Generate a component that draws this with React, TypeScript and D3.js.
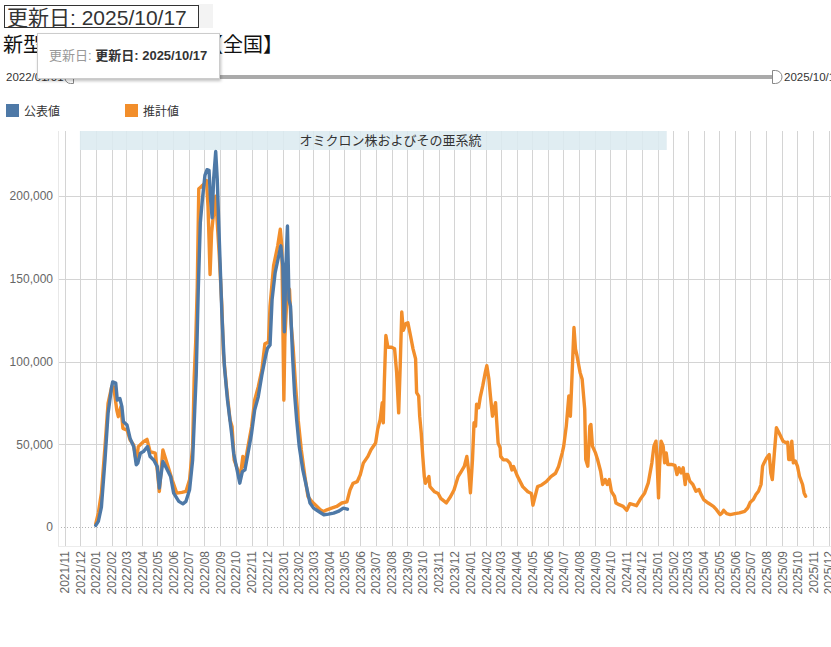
import { useEffect, useRef } from "react";
import * as d3 from "d3";

// 公表値 (published daily counts, ends at the 5類 switch)
const publishedSeries: [string, number][] = [
  ["2022-01-01", 1000], ["2022-01-06", 3400], ["2022-01-12", 12000], ["2022-01-19", 40500],
  ["2022-01-25", 68700], ["2022-02-01", 84700], ["2022-02-03", 87700], ["2022-02-09", 87000],
  ["2022-02-12", 76700], ["2022-02-17", 77700], ["2022-02-21", 72700], ["2022-02-24", 63600],
  ["2022-03-03", 61600], ["2022-03-09", 53600], ["2022-03-16", 48600], ["2022-03-21", 37600],
  ["2022-03-24", 38600], ["2022-03-29", 44600], ["2022-04-04", 45600], ["2022-04-12", 48600],
  ["2022-04-17", 42600], ["2022-04-24", 40500], ["2022-05-01", 36500], ["2022-05-05", 23500],
  ["2022-05-07", 28500], ["2022-05-12", 39600], ["2022-05-19", 35500], ["2022-05-27", 30500],
  ["2022-06-02", 20500], ["2022-06-12", 15500], ["2022-06-20", 14000], ["2022-06-26", 15500],
  ["2022-07-03", 22500], ["2022-07-09", 40500], ["2022-07-13", 70000], ["2022-07-16", 92000],
  ["2022-07-20", 143600], ["2022-07-24", 184000], ["2022-07-28", 198000], ["2022-08-02", 212600],
  ["2022-08-06", 216000], ["2022-08-10", 215600], ["2022-08-13", 198000], ["2022-08-16", 187000],
  ["2022-08-19", 210500], ["2022-08-23", 227000], ["2022-08-26", 210500], ["2022-08-30", 174000],
  ["2022-09-04", 129400], ["2022-09-09", 97000], ["2022-09-15", 76700], ["2022-09-23", 56600],
  ["2022-09-27", 44600], ["2022-10-03", 35500], ["2022-10-09", 26500], ["2022-10-14", 33500],
  ["2022-10-19", 34500], ["2022-10-25", 44600], ["2022-11-01", 56600], ["2022-11-07", 70700],
  ["2022-11-14", 78700], ["2022-11-21", 91800], ["2022-11-28", 102800], ["2022-12-02", 108000],
  ["2022-12-07", 110000], ["2022-12-11", 137500], ["2022-12-17", 153800], ["2022-12-24", 164000],
  ["2022-12-28", 170000], ["2023-01-01", 157800], ["2023-01-04", 118000], ["2023-01-07", 158000],
  ["2023-01-10", 182000], ["2023-01-13", 137500], ["2023-01-16", 133500], ["2023-01-20", 103000],
  ["2023-01-24", 80000], ["2023-01-28", 64600], ["2023-02-02", 48600], ["2023-02-09", 34500],
  ["2023-02-16", 24500], ["2023-02-23", 14500], ["2023-03-02", 11400], ["2023-03-12", 9400],
  ["2023-03-22", 7400], ["2023-03-31", 7800], ["2023-04-10", 8400], ["2023-04-19", 9400],
  ["2023-04-29", 11400], ["2023-05-05", 11000], ["2023-05-07", 10800],
];

// 推計値 (estimated counts)
const estimatedSeries: [string, number][] = [
  ["2022-01-01", 2000], ["2022-01-06", 8400], ["2022-01-12", 20500], ["2022-01-19", 48600],
  ["2022-01-25", 74700], ["2022-02-01", 84700], ["2022-02-05", 84700], ["2022-02-11", 70700],
  ["2022-02-14", 66700], ["2022-02-19", 72700], ["2022-02-23", 59600], ["2022-03-03", 58600],
  ["2022-03-09", 52600], ["2022-03-16", 49600], ["2022-03-21", 39600], ["2022-03-25", 48600],
  ["2022-04-04", 51600], ["2022-04-11", 53000], ["2022-04-17", 45600], ["2022-04-27", 44600],
  ["2022-05-01", 34500], ["2022-05-05", 21500], ["2022-05-12", 46600], ["2022-05-20", 38600],
  ["2022-05-30", 28500], ["2022-06-08", 20500], ["2022-06-18", 20900], ["2022-06-26", 21500],
  ["2022-07-03", 28500], ["2022-07-09", 48600], ["2022-07-12", 90000], ["2022-07-15", 112000],
  ["2022-07-18", 145000], ["2022-07-21", 204500], ["2022-07-25", 205500], ["2022-07-28", 206500],
  ["2022-08-02", 207500], ["2022-08-05", 209500], ["2022-08-08", 194000], ["2022-08-10", 174000],
  ["2022-08-12", 152700], ["2022-08-15", 178000], ["2022-08-19", 190000], ["2022-08-23", 200000],
  ["2022-08-26", 184000], ["2022-08-30", 164000], ["2022-09-04", 133500], ["2022-09-07", 104800],
  ["2022-09-13", 84700], ["2022-09-20", 64700], ["2022-09-24", 60600], ["2022-09-28", 40500],
  ["2022-10-05", 34500], ["2022-10-10", 30500], ["2022-10-15", 42600], ["2022-10-18", 36500],
  ["2022-10-25", 48600], ["2022-11-01", 60600], ["2022-11-07", 76700], ["2022-11-14", 84700],
  ["2022-11-21", 94800], ["2022-11-27", 110800], ["2022-12-04", 111800], ["2022-12-07", 133500],
  ["2022-12-14", 158000], ["2022-12-22", 170000], ["2022-12-27", 180000], ["2022-12-30", 170000],
  ["2023-01-01", 123000], ["2023-01-03", 76700], ["2023-01-05", 115000], ["2023-01-10", 145000],
  ["2023-01-14", 143600], ["2023-01-17", 123000], ["2023-01-21", 108800], ["2023-01-26", 84700],
  ["2023-01-31", 64600], ["2023-02-06", 46600], ["2023-02-13", 30500], ["2023-02-19", 18500],
  ["2023-02-26", 15500], ["2023-03-05", 13500], ["2023-03-15", 10400], ["2023-03-21", 9400],
  ["2023-03-28", 10400], ["2023-04-06", 11400], ["2023-04-16", 12400], ["2023-04-26", 14500],
  ["2023-05-06", 15200], ["2023-05-12", 22400], ["2023-05-18", 26400], ["2023-05-26", 27400],
  ["2023-06-01", 31500], ["2023-06-07", 38600], ["2023-06-16", 42700], ["2023-06-22", 46700],
  ["2023-07-01", 50800], ["2023-07-05", 59000], ["2023-07-10", 65000], ["2023-07-14", 75200],
  ["2023-07-16", 63000], ["2023-07-18", 87400], ["2023-07-21", 115800], ["2023-07-25", 108700],
  ["2023-08-01", 108700], ["2023-08-07", 107700], ["2023-08-11", 93500], ["2023-08-15", 69000],
  ["2023-08-18", 97500], ["2023-08-21", 130000], ["2023-08-24", 118900], ["2023-08-29", 123000],
  ["2023-09-02", 123500], ["2023-09-07", 115800], ["2023-09-12", 107700], ["2023-09-17", 101600],
  ["2023-09-19", 81300], ["2023-09-23", 79200], ["2023-09-25", 67000], ["2023-09-28", 56900],
  ["2023-10-01", 42700], ["2023-10-04", 30500], ["2023-10-06", 26400], ["2023-10-13", 30500],
  ["2023-10-15", 24400], ["2023-10-24", 21300], ["2023-10-31", 20300], ["2023-11-05", 17300],
  ["2023-11-16", 14600], ["2023-11-24", 18300], ["2023-12-01", 22400], ["2023-12-09", 30500],
  ["2023-12-15", 33500], ["2023-12-21", 36600], ["2023-12-26", 42700], ["2023-12-30", 32500],
  ["2024-01-02", 20700], ["2024-01-06", 40600], ["2024-01-09", 63000], ["2024-01-12", 61000],
  ["2024-01-14", 74200], ["2024-01-18", 72100], ["2024-01-21", 78200], ["2024-01-26", 85300],
  ["2024-01-31", 93500], ["2024-02-03", 97500], ["2024-02-07", 89400], ["2024-02-10", 79200],
  ["2024-02-14", 67000], ["2024-02-17", 71100], ["2024-02-20", 75200], ["2024-02-22", 65000],
  ["2024-02-25", 50800], ["2024-02-29", 47800], ["2024-03-01", 42700], ["2024-03-06", 40600],
  ["2024-03-13", 40600], ["2024-03-19", 38600], ["2024-03-23", 34500], ["2024-03-26", 36600],
  ["2024-04-03", 30500], ["2024-04-13", 24400], ["2024-04-23", 21300], ["2024-04-30", 20300],
  ["2024-05-03", 13200], ["2024-05-07", 18300], ["2024-05-12", 24400], ["2024-05-20", 25400],
  ["2024-05-29", 27400], ["2024-06-07", 30500], ["2024-06-16", 32500], ["2024-06-22", 36600],
  ["2024-06-29", 44700], ["2024-07-02", 48900], ["2024-07-07", 61000], ["2024-07-12", 79200],
  ["2024-07-15", 67000], ["2024-07-19", 97400], ["2024-07-22", 120600], ["2024-07-25", 107500],
  ["2024-07-28", 103400], ["2024-08-03", 93300], ["2024-08-07", 89300], ["2024-08-12", 71100],
  ["2024-08-14", 40800], ["2024-08-18", 36800], ["2024-08-22", 61000], ["2024-08-24", 62000],
  ["2024-08-27", 48900], ["2024-09-02", 44800], ["2024-09-06", 40800], ["2024-09-12", 33700],
  ["2024-09-16", 25700], ["2024-09-21", 28700], ["2024-09-25", 25700], ["2024-09-29", 28700],
  ["2024-10-03", 21600], ["2024-10-09", 18600], ["2024-10-12", 14500], ["2024-10-18", 13500],
  ["2024-10-26", 12500], ["2024-11-02", 10100], ["2024-11-08", 14100], ["2024-11-15", 13500],
  ["2024-11-21", 12900], ["2024-11-28", 16600], ["2024-12-07", 20600], ["2024-12-14", 26700],
  ["2024-12-21", 38800], ["2024-12-25", 48900], ["2024-12-29", 51900], ["2024-12-31", 40800],
  ["2025-01-03", 17600], ["2025-01-05", 36800], ["2025-01-08", 51900], ["2025-01-12", 48900],
  ["2025-01-15", 38800], ["2025-01-18", 44800], ["2025-01-21", 37800], ["2025-01-28", 37800],
  ["2025-02-04", 37200], ["2025-02-08", 31700], ["2025-02-12", 35800], ["2025-02-16", 32700],
  ["2025-02-20", 35800], ["2025-02-24", 25700], ["2025-02-26", 31700], ["2025-03-01", 31700],
  ["2025-03-05", 27700], ["2025-03-11", 25700], ["2025-03-17", 21600], ["2025-03-23", 22600],
  ["2025-03-27", 19600], ["2025-04-01", 16600], ["2025-04-10", 14500], ["2025-04-20", 12500],
  ["2025-04-26", 10500], ["2025-05-03", 7500], ["2025-05-07", 8500], ["2025-05-10", 10100],
  ["2025-05-16", 8100], ["2025-05-23", 7500], ["2025-06-01", 8100], ["2025-06-10", 8500],
  ["2025-06-20", 9500], ["2025-06-26", 11500], ["2025-07-01", 15000], ["2025-07-07", 16600],
  ["2025-07-12", 19600], ["2025-07-17", 21600], ["2025-07-22", 25700], ["2025-07-25", 36800],
  ["2025-07-28", 38800], ["2025-08-02", 41800], ["2025-08-07", 43800], ["2025-08-10", 32700],
  ["2025-08-13", 28700], ["2025-08-17", 44800], ["2025-08-21", 60000], ["2025-08-26", 57000],
  ["2025-09-03", 51900], ["2025-09-09", 50900], ["2025-09-12", 51300], ["2025-09-14", 40800],
  ["2025-09-17", 40800], ["2025-09-20", 51900], ["2025-09-23", 38800], ["2025-09-27", 39800],
  ["2025-10-01", 36800], ["2025-10-05", 30700], ["2025-10-11", 25700], ["2025-10-14", 20600],
  ["2025-10-17", 18600],
];

const seriesNames = ["公表値", "推計値"];
const seriesColors = ["#4e79a7", "#f28e2b"];
const yTicks = [0, 50000, 100000, 150000, 200000];
const xDomain = ["2021-11-01", "2025-12-01"];
const bandRange = ["2021-12-01", "2025-01-19"];
const bandLabelDate = "2023-07-30";
const bandLabel = "オミクロン株およびその亜系統";
const updateText = "更新日: 2025/10/17";
const titleText = "新型コロナ感染者推計【全国】";
const rangeLabels = ["2022/01/01", "2025/10/17"];

const FONT = "Arial, 'Liberation Sans', 'Noto Sans CJK JP', sans-serif";

const App = () => {
  const ref = useRef<SVGSVGElement>(null!);

  useEffect(() => {
    const width = 831;
    const height = 647;
    const left = 58;
    const top = 131;
    const bottom = 546;

    const parse = d3.utcParse("%Y-%m-%d");
    const svg = d3.select(ref.current);
    svg.selectAll("*").remove();
    svg.attr("width", width).attr("height", height).style("font-family", FONT);

    const x = d3
      .scaleUtc()
      .domain(xDomain.map((d) => parse(d)!))
      .range([64.5, 828.7]);
    const y = d3.scaleLinear().domain([0, 200000]).range([527, 196.2]);

    const defs = svg.append("defs");
    defs
      .append("filter")
      .attr("id", "shadow")
      .attr("x", "-10%")
      .attr("y", "-10%")
      .attr("width", "130%")
      .attr("height", "140%")
      .append("feDropShadow")
      .attr("dx", 1)
      .attr("dy", 2)
      .attr("stdDeviation", 1.5)
      .attr("flood-color", "#000")
      .attr("flood-opacity", 0.25);

    // header: update date box
    svg.append("rect").attr("x", 198).attr("y", 4).attr("width", 15).attr("height", 24).attr("fill", "#f3f3f3");
    svg
      .append("rect")
      .attr("x", 4.5)
      .attr("y", 5.5)
      .attr("width", 194)
      .attr("height", 22)
      .attr("fill", "none")
      .attr("stroke", "#333");
    svg.append("text").attr("x", 7).attr("y", 25).attr("font-size", 21).attr("fill", "#333").text(updateText);

    // title (partly hidden by tooltip)
    svg.append("text").attr("x", 3).attr("y", 52).attr("font-size", 20).attr("fill", "#111").text(titleText);

    // range slider
    svg.append("text").attr("x", 6).attr("y", 81).attr("font-size", 11.5).attr("fill", "#333").text(rangeLabels[0]);
    svg.append("rect").attr("x", 72).attr("y", 75).attr("width", 701).attr("height", 4).attr("fill", "#aaa");
    svg
      .append("path")
      .attr("d", "M73.5,71.5 h-3 a5.5,5.5 0 0 0 -5.5,5.5 v1 a5.5,5.5 0 0 0 5.5,5.5 h3 z")
      .attr("fill", "#fff")
      .attr("stroke", "#888");
    svg
      .append("path")
      .attr("d", "M772.5,70.5 h3 a6.5,6.5 0 0 1 6.5,6.5 v0 a6.5,6.5 0 0 1 -6.5,6.5 h-3 z")
      .attr("fill", "#fff")
      .attr("stroke", "#888");
    svg.append("text").attr("x", 784).attr("y", 81).attr("font-size", 11.5).attr("fill", "#333").text(rangeLabels[1]);

    // legend
    const legend = svg.append("g");
    seriesNames.forEach((name, i) => {
      const lx = 6 + i * 119;
      legend.append("rect").attr("x", lx).attr("y", 104).attr("width", 13).attr("height", 13).attr("fill", seriesColors[i]);
      legend.append("text").attr("x", lx + 18).attr("y", 116).attr("font-size", 12).attr("fill", "#333").text(name);
    });

    // grid
    const months = x.ticks(d3.utcMonth.every(1)!);
    svg
      .append("g")
      .selectAll("line")
      .data(months)
      .enter()
      .append("line")
      .attr("x1", (d) => Math.round(x(d)) + 0.5)
      .attr("x2", (d) => Math.round(x(d)) + 0.5)
      .attr("y1", top)
      .attr("y2", bottom)
      .attr("stroke", "#d4d4d4");

    svg
      .append("g")
      .selectAll("line")
      .data(yTicks.filter((t) => t > 0))
      .enter()
      .append("line")
      .attr("x1", left)
      .attr("x2", width)
      .attr("y1", (d) => Math.round(y(d)) + 0.5)
      .attr("y2", (d) => Math.round(y(d)) + 0.5)
      .attr("stroke", "#d4d4d4");

    svg
      .append("line")
      .attr("x1", left)
      .attr("x2", width)
      .attr("y1", Math.round(y(0)) + 0.5)
      .attr("y2", Math.round(y(0)) + 0.5)
      .attr("stroke", "#b4b4b4")
      .attr("stroke-dasharray", "1,2");

    svg.append("line").attr("x1", left + 0.5).attr("x2", left + 0.5).attr("y1", top).attr("y2", bottom).attr("stroke", "#e8e8e8");
    svg.append("line").attr("x1", left).attr("x2", width).attr("y1", bottom + 0.5).attr("y2", bottom + 0.5).attr("stroke", "#ececec");

    // omicron band
    const [b0, b1] = bandRange.map((d) => x(parse(d)!));
    svg
      .append("rect")
      .attr("x", b0)
      .attr("y", top)
      .attr("width", b1 - b0)
      .attr("height", 19)
      .attr("fill", "#dcebf0")
      .attr("opacity", 0.88);
    svg
      .append("text")
      .attr("x", x(parse(bandLabelDate)!))
      .attr("y", top + 14)
      .attr("text-anchor", "middle")
      .attr("font-size", 13)
      .attr("fill", "#333")
      .text(bandLabel);

    // y axis labels
    svg
      .append("g")
      .selectAll("text")
      .data(yTicks)
      .enter()
      .append("text")
      .attr("x", 53)
      .attr("y", (d) => y(d))
      .attr("dy", "0.35em")
      .attr("text-anchor", "end")
      .attr("font-size", 12)
      .attr("fill", "#666")
      .text((d) => d3.format(",")(d));

    // x axis labels
    const xAxis = svg
      .append("g")
      .attr("transform", `translate(0,${bottom})`)
      .call(d3.axisBottom(x).ticks(d3.utcMonth.every(1)!).tickFormat((d) => d3.utcFormat("%Y/%m")(d as Date)).tickSize(0));
    xAxis.select(".domain").remove();
    xAxis
      .selectAll("text")
      .attr("transform", "rotate(-90)")
      .attr("text-anchor", "end")
      .attr("x", -5)
      .attr("y", 0)
      .attr("dy", "0.35em")
      .attr("font-size", 12)
      .attr("font-family", FONT)
      .attr("fill", "#666");

    // lines
    const line = d3
      .line<[string, number]>()
      .x((d) => x(parse(d[0])!))
      .y((d) => y(d[1]));

    [estimatedSeries, publishedSeries].forEach((series, i) => {
      svg
        .append("path")
        .datum(series)
        .attr("d", line)
        .attr("fill", "none")
        .attr("stroke", seriesColors[1 - i])
        .attr("stroke-width", 3.4)
        .attr("stroke-linejoin", "round")
        .attr("stroke-linecap", "round");
    });

    // tooltip overlay
    const tip = svg.append("g");
    tip
      .append("rect")
      .attr("x", 37.5)
      .attr("y", 33.5)
      .attr("width", 182)
      .attr("height", 45)
      .attr("fill", "#fff")
      .attr("stroke", "#ccc")
      .attr("filter", "url(#shadow)");
    const tipText = tip.append("text").attr("x", 49).attr("y", 60).attr("font-size", 13);
    tipText.append("tspan").attr("fill", "#999").text("更新日: ");
    tipText.append("tspan").attr("fill", "#333").attr("font-weight", "bold").text(updateText);
  }, []);

  return (
    <div style={{ position: "absolute", left: 0, top: 0 }}>
      <svg ref={ref} style={{ display: "block" }} />
    </div>
  );
};

export default App;
